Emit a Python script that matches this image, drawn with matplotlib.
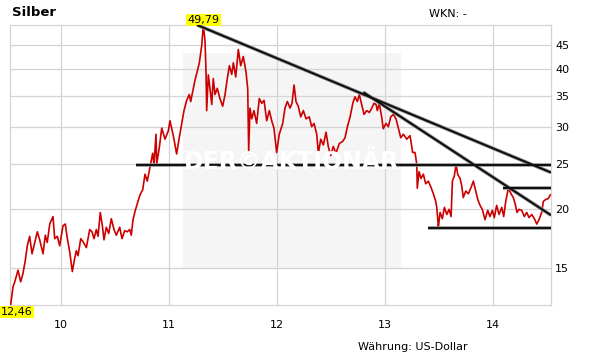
import matplotlib.pyplot as plt
import matplotlib.patches as mpatches

# silver price (decimal years, USD)
dates = [
    2009.534, 2009.556, 2009.572, 2009.602, 2009.627, 2009.648, 2009.670, 2009.688, 2009.710, 2009.732,
    2009.750, 2009.781, 2009.803, 2009.834, 2009.855, 2009.873, 2009.896, 2009.926, 2009.942, 2009.966,
    2009.988, 2010.019, 2010.040, 2010.059, 2010.081, 2010.105, 2010.127, 2010.142, 2010.158, 2010.183,
    2010.204, 2010.235, 2010.266, 2010.287, 2010.306, 2010.327, 2010.343, 2010.364, 2010.383, 2010.398,
    2010.420, 2010.442, 2010.466, 2010.491, 2010.512, 2010.544, 2010.565, 2010.590, 2010.614, 2010.636,
    2010.651, 2010.667, 2010.688, 2010.713, 2010.732, 2010.757, 2010.778, 2010.799, 2010.824, 2010.849,
    2010.861, 2010.880, 2010.886, 2010.910, 2010.933, 2010.963, 2010.994, 2011.009, 2011.040, 2011.071,
    2011.095, 2011.118, 2011.139, 2011.164, 2011.188, 2011.201, 2011.225, 2011.241, 2011.262, 2011.281,
    2011.303, 2011.318, 2011.334, 2011.343, 2011.349, 2011.364, 2011.380, 2011.396, 2011.410, 2011.426,
    2011.447, 2011.472, 2011.497, 2011.519, 2011.540, 2011.559, 2011.581, 2011.596, 2011.618, 2011.642,
    2011.664, 2011.688, 2011.713, 2011.729, 2011.738, 2011.750, 2011.766, 2011.787, 2011.812, 2011.836,
    2011.859, 2011.880, 2011.905, 2011.929, 2011.951, 2011.972, 2011.997, 2012.021, 2012.053, 2012.074,
    2012.096, 2012.121, 2012.139, 2012.158, 2012.176, 2012.197, 2012.220, 2012.244, 2012.269, 2012.299,
    2012.321, 2012.343, 2012.368, 2012.383, 2012.405, 2012.429, 2012.454, 2012.475, 2012.497, 2012.521,
    2012.546, 2012.577, 2012.608, 2012.630, 2012.652, 2012.677, 2012.702, 2012.722, 2012.744, 2012.762,
    2012.784, 2012.806, 2012.831, 2012.855, 2012.877, 2012.898, 2012.917, 2012.929, 2012.947, 2012.969,
    2012.984, 2013.009, 2013.031, 2013.053, 2013.077, 2013.102, 2013.123, 2013.146, 2013.170, 2013.201,
    2013.232, 2013.256, 2013.278, 2013.294, 2013.299, 2013.315, 2013.333, 2013.355, 2013.377, 2013.401,
    2013.426, 2013.448, 2013.470, 2013.479, 2013.489, 2013.494, 2013.510, 2013.531, 2013.550, 2013.572,
    2013.593, 2013.612, 2013.624, 2013.642, 2013.658, 2013.673, 2013.695, 2013.710, 2013.725, 2013.748,
    2013.772, 2013.797, 2013.818, 2013.840, 2013.859, 2013.880, 2013.901, 2013.926, 2013.951, 2013.972,
    2013.994, 2014.012, 2014.034, 2014.056, 2014.081, 2014.099, 2014.118, 2014.142, 2014.167, 2014.188,
    2014.204, 2014.222, 2014.241, 2014.266, 2014.290, 2014.312, 2014.334, 2014.359, 2014.383, 2014.405,
    2014.426, 2014.451, 2014.466, 2014.488, 2014.512, 2014.531,
]
prices = [
    12.46, 13.63, 13.97, 14.8, 13.97, 14.56, 15.55, 16.7, 17.5, 16.05,
    16.7, 17.9, 17.2, 16.05, 17.6, 16.98, 18.6, 19.3, 17.3, 17.5,
    16.7, 18.45, 18.6, 17.3, 16.2, 14.7, 15.7, 16.3, 15.9, 17.3,
    17.05, 16.55, 18.1, 17.9, 17.3, 18.1, 17.5, 19.7, 18.45, 17.2,
    18.3, 17.75, 19.1, 18.1, 17.6, 18.3, 17.3, 18.0, 17.9, 18.1,
    17.6, 19.0, 19.9, 20.8, 21.5, 22.05, 23.8, 23.0, 24.6, 26.4,
    25.0, 29.0, 25.0, 27.1, 29.9, 28.3, 29.5, 31.0, 28.8, 26.3,
    28.5, 30.6, 32.6, 34.3, 35.3, 34.1, 36.3, 37.9, 39.6, 41.3,
    45.0, 49.79, 45.9, 39.2, 32.6, 38.9, 36.3, 33.6, 38.2, 35.3,
    36.4, 34.6, 33.3, 35.3, 38.2, 40.7, 39.0, 41.3, 38.5, 44.1,
    40.7, 42.6, 39.5, 36.3, 26.7, 33.0, 31.3, 32.6, 30.6, 34.6,
    33.8, 34.3, 31.0, 32.6, 31.0, 29.9, 26.5, 29.0, 30.6, 33.0,
    34.1, 33.0, 33.8, 37.0, 34.1, 33.3, 31.6, 32.6, 31.3, 31.6,
    30.1, 30.6, 29.0, 26.4, 28.3, 27.5, 29.3, 27.3, 26.1, 27.3,
    26.4, 27.7, 28.0, 28.5, 30.1, 31.6, 33.8, 34.9, 34.1, 35.3,
    33.6, 32.0, 32.6, 32.3, 33.0, 33.8, 33.6, 32.6, 33.8, 31.6,
    29.8, 30.6, 30.1, 31.6, 32.0, 31.3, 29.9, 28.5, 29.0, 28.3,
    28.8, 26.5, 26.5, 25.0, 22.2, 24.1, 23.3, 23.8, 22.7, 23.0,
    22.3, 21.6, 20.8, 20.2, 19.0, 18.3, 19.7, 19.1, 20.2, 19.5,
    20.0, 19.3, 23.0, 23.6, 25.0, 23.8, 23.3, 22.5, 21.2, 21.9,
    21.6, 22.3, 23.0, 21.9, 21.0, 20.4, 20.0, 19.0, 19.9, 19.3,
    19.9, 19.2, 20.4, 19.5, 20.2, 19.3, 20.8, 22.2, 21.6, 21.2,
    20.6, 19.7, 20.0, 19.9, 19.3, 19.7, 19.2, 19.5, 19.1, 18.6,
    19.0, 19.7, 20.8, 21.0, 21.1, 21.5,
]

low_val = 12.46
high_val = 49.79
x_start = 2009.528
x_end = 2014.537

year_ticks = [2010, 2011, 2012, 2013, 2014]
year_labels = ["10", "11", "12", "13", "14"]
price_ticks = [15, 20, 25, 30, 35, 40, 45]

# trend lines: (date0, price0, date1, price1)
trend_lines = [
    (2011.26, 49.79, x_end, 24.0),
    (2010.695, 24.9, x_end, 24.9),
    (2012.799, 35.7, x_end, 19.43),
    (2013.398, 18.22, x_end, 18.22),
    (2014.093, 22.2, x_end, 22.2),
]

W, H = 611, 364
fig = plt.figure(figsize=(W / 100, H / 100), dpi=100)
ax = fig.add_axes([10 / W, 1 - 305 / H, 541 / W, 280 / H])

ax.set_yscale("log")
ax.set_xlim(x_start, x_end)
ax.set_ylim(low_val, high_val)

# watermark box + text
wm = mpatches.Rectangle((183 / W, 1 - 268 / H), 218 / W, 215 / H, transform=fig.transFigure,
                        facecolor="#f5f5f5", edgecolor="none", zorder=0)
ax.add_patch(wm)
fig.text(292 / W, 1 - 162 / H, "DER©AKTIONÄR", color="white", fontsize=17, fontweight="bold",
         ha="center", va="center", zorder=1)

ax.set_axisbelow(True)
ax.grid(True, color="#d4d4d4", linewidth=0.9)
for s in ax.spines.values():
    s.set_color("#d4d4d4")
    s.set_linewidth(0.9)

ax.plot(dates, prices, color="#cc0000", linewidth=1.2, zorder=3)

for d0, p0, d1, p1 in trend_lines:
    ax.plot([d0, d1], [p0, p1], color="#9a9a9a", linewidth=2.6, solid_capstyle="butt", zorder=4)
    ax.plot([d0, d1], [p0, p1], color="#111111", linewidth=1.5, solid_capstyle="butt", zorder=5)

ax.set_xticks(year_ticks)
ax.set_xticklabels(year_labels)
ax.yaxis.tick_right()
ax.set_yticks(price_ticks)
ax.set_yticklabels([str(t) for t in price_ticks])
ax.yaxis.set_minor_locator(plt.NullLocator())
ax.tick_params(axis="both", length=0, labelsize=8, colors="black")
ax.tick_params(axis="x", pad=11)
ax.tick_params(axis="y", pad=3)

# value labels
ax.text(dates[prices.index(high_val)], 1.0, "49,79", transform=ax.get_xaxis_transform(),
        ha="center", va="bottom", fontsize=8,
        bbox=dict(boxstyle="square,pad=0.12", facecolor="#ffff00", edgecolor="none"))
fig.text(1 / W, 1 - 307 / H, "12,46", ha="left", va="top", fontsize=8,
         bbox=dict(boxstyle="square,pad=0.12", facecolor="#ffff00", edgecolor="none"))

fig.text(12 / W, 1 - 12 / H, "Silber", fontsize=9.5, fontweight="bold", ha="left", va="center")
fig.text(429 / W, 1 - 14 / H, "WKN: -", fontsize=8, ha="left", va="center")
fig.text(358 / W, 1 - 347 / H, "Währung: US-Dollar", fontsize=8, ha="left", va="center")

fig.savefig("out.png", dpi=100)
